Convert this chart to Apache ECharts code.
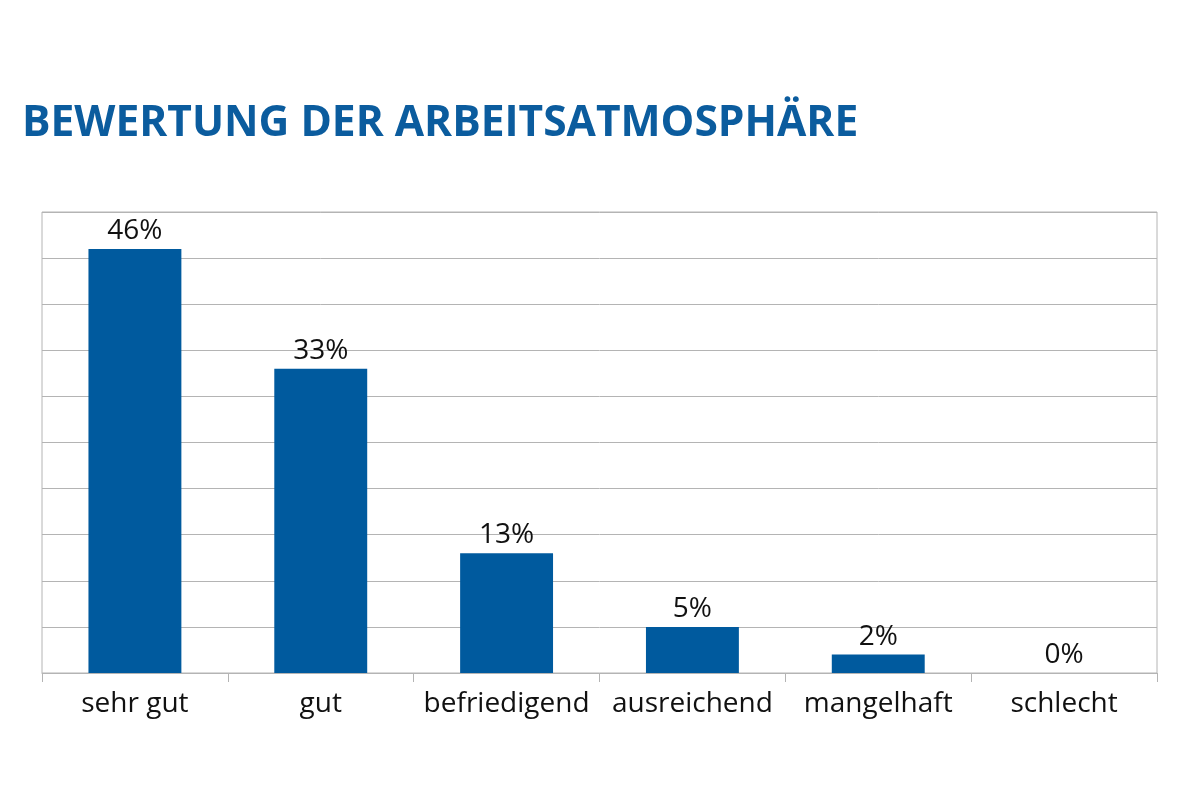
<!DOCTYPE html>
<html>
<head>
<meta charset="utf-8">
<title>Bewertung der Arbeitsatmosphäre</title>
<script src="https://cdn.jsdelivr.net/npm/echarts@6/dist/echarts.min.js"></script>
<style>
    html, body { margin: 0; padding: 0; background: #fff; }
    #chart { width: 1200px; height: 800px; }
</style>
</head>
<body>
<div id="chart"></div>
<script>
// Kategorien und Werte (in Prozent)
const categories = ['sehr gut', 'gut', 'befriedigend', 'ausreichend', 'mangelhaft', 'schlecht'];
const values = [46, 33, 13, 5, 2, 0];

const barColor = '#005a9e';
const lineColor = '#b4b4b4';

const chart = echarts.init(document.getElementById('chart'));

const option = {
    backgroundColor: '#fff',
    animation: false,
    title: {
        text: 'BEWERTUNG DER ARBEITSATMOSPHÄRE',
        left: 17,
        top: 97,
        textStyle: {
            fontFamily: 'Open Sans',
            fontWeight: 'bold',
            fontSize: 42.5,
            color: '#0b5c9e'
        }
    },
    grid: {
        left: 42,
        right: 43,
        top: 212,
        bottom: 127,
        show: true,
        borderColor: lineColor,
        borderWidth: 1
    },
    xAxis: {
        type: 'category',
        data: categories,
        axisLine: { lineStyle: { color: lineColor } },
        axisTick: { show: true, interval: 0, length: 9, lineStyle: { color: lineColor } },
        axisLabel: {
            interval: 0,
            color: '#111',
            fontFamily: 'Open Sans',
            fontSize: 28,
            margin: 17
        }
    },
    yAxis: {
        type: 'value',
        min: 0,
        max: 50,
        interval: 5,
        axisLabel: { show: false },
        axisLine: { show: false },
        axisTick: { show: false },
        splitLine: { lineStyle: { color: lineColor } }
    },
    series: [
        {
            type: 'bar',
            data: values,
            barWidth: '50%',
            itemStyle: { color: barColor },
            label: {
                show: true,
                position: 'top',
                distance: 4,
                formatter: '{c}%',
                color: '#111',
                fontFamily: 'Open Sans',
                fontSize: 28
            }
        }
    ]
};

chart.setOption(option);
</script>
</body>
</html>
